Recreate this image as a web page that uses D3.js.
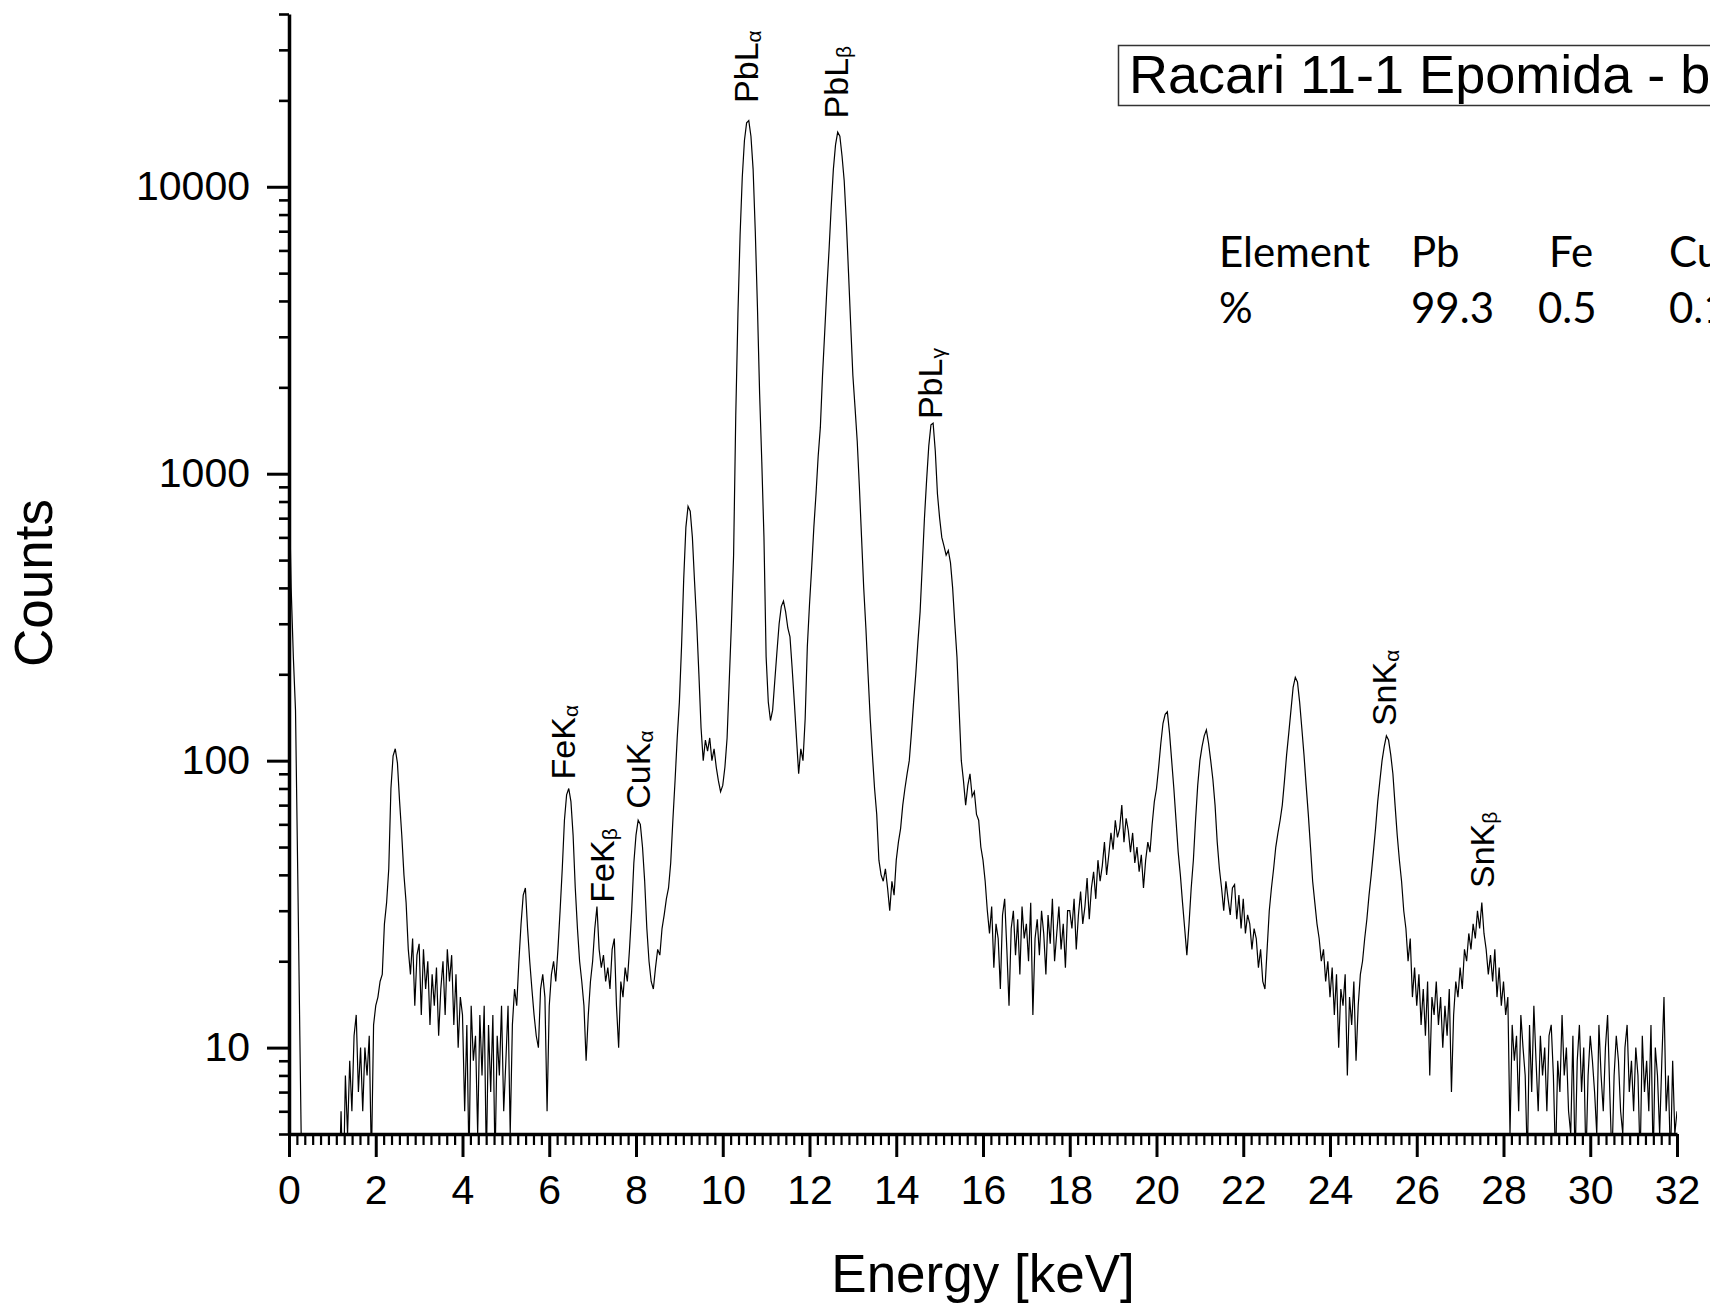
<!DOCTYPE html>
<html>
<head>
<meta charset="utf-8">
<title>Racari 11-1 Epomida - XRF spectrum</title>
<script src="https://cdn.jsdelivr.net/npm/d3@7"></script>
<style>
  body { margin: 0; background: #fff; }
  svg { display: block; }
</style>
</head>
<body>
<svg id="chart" width="1710" height="1303"></svg>
<script>
// -----------------------------------------------------------------------------
// Data
// -----------------------------------------------------------------------------
// spectrum channels, 0.05 keV apart, starting at 0 keV
const energyStart = 0;
const energyStep = 0.05;

// 0.00 - 7.95 keV (low lines, Fe, noise floor)
const countsLow = [
  980, 400, 230, 150, 42, 11, 3, 3, 3, 3, 3, 3, 3, 3, 3, 3, 3, 3, 3, 3,
  3, 3, 3, 3, 6, 3, 8, 5, 9, 6, 11, 13, 7, 10, 6, 10, 8, 11, 4, 12,
  14, 15, 17, 18, 27, 32, 42, 80, 104, 110, 98, 72, 55, 40, 32, 22, 18, 24, 14, 21,
  23, 13, 22, 16, 20, 12, 18, 14, 19, 11, 16, 20, 13, 22, 17, 21, 12, 18, 10, 15,
  13, 6, 12, 4, 14, 9, 11, 5, 13, 8, 14, 4, 12, 7, 13, 4, 11, 8, 14, 6,
  9, 14, 5, 12, 16, 14, 20, 27, 34, 36, 26, 20, 16, 13, 11, 10, 16, 18, 15, 6,
  14, 18, 20, 17, 22, 30, 42, 62, 76, 80, 72, 55, 36, 26, 20, 17, 14, 9, 13, 17,
  20, 26, 31, 22, 19, 21, 17, 19, 16, 22, 24, 14, 10, 17, 15, 19, 17, 22, 30, 44
];

// 8.00 - 15.95 keV (Cu, Pb L lines)
const countsPb = [
  55, 62, 60, 50, 38, 26, 20, 17, 16, 19, 22, 21, 26, 29, 33, 36, 44, 62, 85, 120,
  160, 250, 430, 650, 770, 740, 600, 420, 300, 200, 130, 100, 118, 108, 120, 100, 110, 95, 85, 78,
  82, 95, 120, 190, 300, 520, 1600, 3600, 6800, 10800, 14500, 16700, 17000, 15000, 11500, 7000, 3800, 1900, 1100, 600,
  230, 160, 138, 150, 190, 240, 300, 345, 360, 330, 290, 270, 210, 160, 120, 90, 110, 100, 140, 250,
  350, 470, 650, 850, 1150, 1450, 2200, 3100, 4400, 6000, 8500, 11500, 14000, 15500, 15000, 12800, 10500, 7500, 5000, 3300,
  2200, 1700, 1300, 900, 600, 400, 290, 200, 140, 105, 80, 65, 45, 40, 38, 42, 36, 30, 38, 34,
  45, 52, 58, 70, 80, 90, 100, 125, 160, 200, 260, 330, 480, 700, 950, 1250, 1480, 1500, 1200, 850,
  700, 600, 560, 520, 540, 490, 400, 300, 230, 150, 100, 85, 70, 82, 90, 75, 78, 65, 62, 50
];

// 16.00 - 23.95 keV (scatter region)
const countsMid = [
  45, 38, 30, 25, 31, 19, 27, 24, 16, 29, 33, 22, 14, 26, 30, 21, 28, 18, 31, 24,
  27, 20, 32, 13, 24, 28, 21, 30, 25, 18, 29, 23, 33, 20, 25, 31, 22, 27, 19, 30,
  30, 26, 33, 22, 29, 35, 27, 31, 39, 28, 36, 41, 33, 45, 38, 43, 52, 40, 47, 56,
  49, 62, 54, 58, 70, 52, 63, 57, 48, 56, 44, 50, 41, 47, 36, 45, 52, 48, 60, 72,
  80, 95, 115, 135, 145, 148, 125, 100, 80, 62, 48, 40, 32, 26, 21, 27, 36, 45, 62, 82,
  100, 112, 122, 128, 115, 100, 86, 70, 52, 42, 36, 30, 38, 33, 29, 36, 37, 28, 34, 26,
  33, 25, 29, 27, 22, 26, 24, 19, 22, 17, 16, 22, 30, 36, 42, 50, 56, 62, 70, 85,
  105, 125, 150, 180, 195, 188, 160, 130, 105, 82, 65, 50, 38, 32, 27, 24, 20, 22, 17, 20
];

// 24.00 - 32.00 keV (Sn K lines, tail)
const countsHigh = [
  15, 19, 13, 18, 10, 16, 14, 18, 8, 15, 12, 17, 9, 14, 18, 20, 24, 28, 34, 40,
  48, 58, 72, 85, 100, 112, 122, 118, 105, 90, 70, 55, 45, 38, 30, 26, 20, 24, 15, 19,
  14, 18, 12, 16, 11, 17, 8, 15, 13, 17, 12, 15, 10, 14, 11, 16, 7, 13, 17, 15,
  19, 16, 22, 20, 25, 22, 27, 24, 30, 26, 32, 25, 22, 18, 21, 17, 22, 15, 19, 14,
  17, 13, 15, 5, 12, 9, 11, 6, 13, 10, 8, 4, 12, 7, 14, 9, 6, 11, 8, 10,
  6, 11, 12, 8, 4, 9, 7, 13, 8, 10, 6, 5, 11, 4, 9, 12, 7, 10, 4, 8,
  11, 9, 7, 5, 12, 8, 6, 10, 13, 7, 4, 8, 11, 9, 6, 5, 10, 12, 7, 9,
  6, 10, 8, 4, 11, 7, 9, 6, 12, 4, 10, 8, 5, 9, 15, 6, 8, 4, 9, 5,
  6
];

// peak annotations: line name, greek subscript, energy (keV), counts at label foot
const peakNames = ["PbL", "PbL", "PbL", "FeK", "FeK", "CuK", "SnK", "SnK"];
const peakSubs = ["α", "β", "γ", "α", "β", "α", "α", "β"];
const peakEnergy = [10.52, 12.61, 14.78, 6.32, 7.2, 8.04, 25.25, 27.51];
const peakCounts = [19600, 17300, 1550, 86, 32, 68, 132, 36];

// composition table
const tableElements = ["Pb", "Fe", "Cu"];
const tablePercents = ["99.3", "0.5", "0.1"];

// axis ticks
const xTicks = [0, 2, 4, 6, 8, 10, 12, 14, 16, 18, 20, 22, 24, 26, 28, 30, 32];
const yTicks = [10, 100, 1000, 10000];

const chartTitle = "Racari 11-1 Epomida - b";

// -----------------------------------------------------------------------------
// Setup
// -----------------------------------------------------------------------------
const ARIAL = '"Liberation Sans", Arial, Helvetica, sans-serif';
const CALIBRI = 'Lato, "Open Sans", "Noto Sans", sans-serif';

const svg = d3.select("#chart");
const plot = { left: 289, right: 1677, top: 14, bottom: 1134 };

const x = d3.scaleLinear().domain([0, 32]).range([plot.left, plot.right]);
const y = d3.scaleLog().domain([5, 40000]).range([plot.bottom, plot.top]);

const counts = [...countsLow, ...countsPb, ...countsMid, ...countsHigh];
const spectrum = counts.map((c, i) => ({ e: energyStart + i * energyStep, c }));

svg.append("rect").attr("width", 1710).attr("height", 1303).attr("fill", "#fff");

svg.append("clipPath").attr("id", "plot-clip")
  .append("rect")
  .attr("x", plot.left).attr("y", plot.top)
  .attr("width", plot.right - plot.left).attr("height", plot.bottom - plot.top);

// -----------------------------------------------------------------------------
// Spectrum
// -----------------------------------------------------------------------------
const line = d3.line()
  .x(d => x(d.e))
  .y(d => y(d.c));

svg.append("path")
  .datum(spectrum)
  .attr("clip-path", "url(#plot-clip)")
  .attr("fill", "none")
  .attr("stroke", "#000")
  .attr("stroke-width", 1.2)
  .attr("stroke-linejoin", "miter")
  .attr("d", line);

// -----------------------------------------------------------------------------
// Axes
// -----------------------------------------------------------------------------
// minor ticks: 10 per 2 keV interval on x, 2..9 per decade on y
const xMinor = d3.range(0, 176).map(k => k * 2 / 11).filter(v => v <= 32.0001 && Math.abs(v / 2 - Math.round(v / 2)) > 1e-6);
const yMinor = [];
[1, 10, 100, 1000, 10000].forEach(dec => {
  for (let m = 2; m <= 9; m++) {
    const v = m * dec;
    if (v >= 5 && v <= 40000) yMinor.push(v);
  }
});

function styleAxis(g, width, fontSize) {
  g.attr("font-family", ARIAL).attr("font-size", fontSize);
  g.selectAll(".tick line").attr("stroke", "#000").attr("stroke-width", width);
  g.selectAll(".tick text").attr("fill", "#000");
}

// x minor
svg.append("g")
  .attr("transform", `translate(0,${plot.bottom})`)
  .call(d3.axisBottom(x).tickValues(xMinor).tickSize(11).tickSizeOuter(0).tickFormat(""))
  .call(g => g.select(".domain").remove())
  .call(g => styleAxis(g, 2.2, 0));

// x major
svg.append("g")
  .attr("transform", `translate(0,${plot.bottom})`)
  .call(d3.axisBottom(x).tickValues(xTicks).tickSize(23).tickSizeOuter(0).tickPadding(18).tickFormat(d3.format("d")))
  .call(g => g.select(".domain").attr("stroke", "#000").attr("stroke-width", 3.5))
  .call(g => styleAxis(g, 3, 41));

// y minor
svg.append("g")
  .attr("transform", `translate(${plot.left},0)`)
  .call(d3.axisLeft(y).tickValues(yMinor).tickSize(10).tickSizeOuter(0).tickFormat(""))
  .call(g => g.select(".domain").remove())
  .call(g => styleAxis(g, 2.6, 0));

// y major
svg.append("g")
  .attr("transform", `translate(${plot.left},0)`)
  .call(d3.axisLeft(y).tickValues(yTicks).tickSize(22).tickSizeOuter(0).tickPadding(17).tickFormat(d3.format("d")))
  .call(g => g.select(".domain").attr("stroke", "#000").attr("stroke-width", 3.5))
  .call(g => styleAxis(g, 3, 41));

// axis titles
svg.append("text")
  .attr("transform", `translate(52,583) rotate(-90)`)
  .attr("text-anchor", "middle")
  .attr("font-family", ARIAL)
  .attr("font-size", 53)
  .text("Counts");

svg.append("text")
  .attr("x", 983).attr("y", 1292)
  .attr("text-anchor", "middle")
  .attr("font-family", ARIAL)
  .attr("font-size", 53)
  .text("Energy [keV]");

// -----------------------------------------------------------------------------
// Peak labels (rotated, with greek subscript)
// -----------------------------------------------------------------------------
peakNames.forEach((name, i) => {
  const t = svg.append("text")
    .attr("transform", `translate(${x(peakEnergy[i])},${y(peakCounts[i])}) rotate(-90)`)
    .attr("dy", "0.36em")
    .attr("font-family", ARIAL)
    .attr("font-size", 34)
    .text(name);
  t.append("tspan")
    .attr("font-size", 21)
    .attr("dy", 3)
    .text(peakSubs[i]);
});

// -----------------------------------------------------------------------------
// Title box + composition table
// -----------------------------------------------------------------------------
svg.append("rect")
  .attr("x", 1118.5).attr("y", 45.5)
  .attr("width", 700).attr("height", 60)
  .attr("fill", "#fff")
  .attr("stroke", "#333")
  .attr("stroke-width", 1.5);

svg.append("text")
  .attr("x", 1129).attr("y", 93)
  .attr("font-family", ARIAL)
  .attr("font-size", 54)
  .text(chartTitle);

const colX = [1411, 1549, 1669];
const valX = [1411, 1538, 1669];

svg.append("text").attr("x", 1219).attr("y", 267)
  .attr("font-family", CALIBRI).attr("font-size", 42).text("Element");
svg.append("text").attr("x", 1219).attr("y", 323)
  .attr("font-family", CALIBRI).attr("font-size", 42).text("%");

svg.selectAll("text.el")
  .data(tableElements)
  .join("text")
  .attr("class", "el")
  .attr("x", (d, i) => colX[i]).attr("y", 267)
  .attr("font-family", CALIBRI).attr("font-size", 42)
  .text(d => d);

svg.selectAll("text.pct")
  .data(tablePercents)
  .join("text")
  .attr("class", "pct")
  .attr("x", (d, i) => valX[i]).attr("y", 323)
  .attr("font-family", CALIBRI).attr("font-size", 42)
  .text(d => d);
</script>
</body>
</html>
